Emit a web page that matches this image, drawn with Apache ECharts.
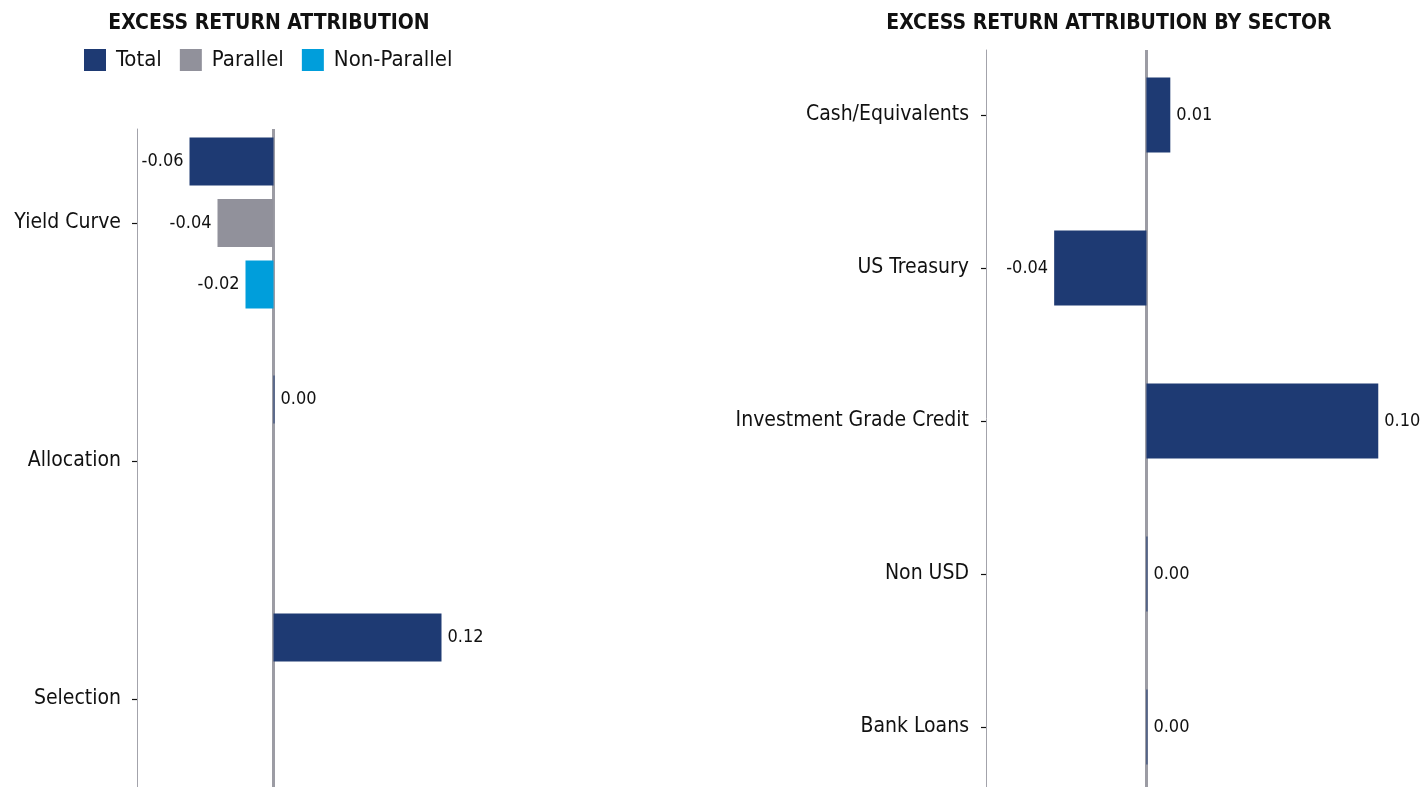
<!DOCTYPE html>
<html>
<head>
<meta charset="utf-8">
<script src="https://cdn.jsdelivr.net/npm/echarts@6/dist/echarts.min.js"></script>
<style>
  html, body { margin: 0; padding: 0; background: #ffffff; }
  #chart { width: 1423px; height: 787px; }
</style>
</head>
<body>
<div id="chart"></div>
<script>
// Attribution categories and values (left panel)
const attributionCategories = ['Yield Curve', 'Allocation', 'Selection'];
const totalValues = [-0.06, 0.00, 0.12];
const parallelValues = [-0.04, null, null];
const nonParallelValues = [-0.02, null, null];

// Sector attribution (right panel)
const sectorCategories = ['Cash/Equivalents', 'US Treasury', 'Investment Grade Credit', 'Non USD', 'Bank Loans'];
const sectorValues = [0.0103, -0.0398, 0.1000, 0.0000, 0.0000];

const seriesNames = ['Total', 'Parallel', 'Non-Parallel'];
const COLORS = { Total: '#1e3a73', Parallel: '#91919b', 'Non-Parallel': '#009edb' };

const FONT = '"DejaVu Sans Condensed", "DejaVu Sans", sans-serif';
const AXIS_GREY = '#a3a3ab';
const ZERO_GREY = '#9c9ca4';

function toItems(values) {
  return values.map(v => v === null ? '-' : {
    value: v,
    label: { position: v < 0 ? 'left' : 'right' }
  });
}

const valueLabel = {
  show: true,
  distance: 6,
  color: '#111',
  fontFamily: FONT,
  fontSize: 18,
  formatter: p => Number(p.value).toFixed(2)
};

const chart = echarts.init(document.getElementById('chart'), null, { renderer: 'canvas' });

// Value extents of the two panels
const leftMin = -0.0975, leftMax = 0.30;
const rightMin = -0.0692, rightMax = 0.118;

const hiddenValueAxis = (gridIndex, min, max) => ({
  type: 'value', gridIndex, min, max,
  axisLine: { show: false }, axisTick: { show: false },
  axisLabel: { show: false }, splitLine: { show: false }
});

const labelledCategoryAxis = (gridIndex, data, margin) => ({
  type: 'category', gridIndex, data, inverse: true,
  axisLine: { show: false, onZero: false },
  axisTick: { show: true, alignWithLabel: true, length: 5, lineStyle: { color: '#111', width: 1.2 } },
  axisLabel: { margin, color: '#111', fontFamily: FONT, fontSize: 21 },
  splitLine: { show: false }
});

const frameCategoryAxis = (gridIndex, data) => ({
  type: 'category', gridIndex, data, inverse: true,
  axisLine: { show: true, onZero: false, lineStyle: { color: AXIS_GREY, width: 1 } },
  axisTick: { show: false }, axisLabel: { show: false }, splitLine: { show: false }
});

const zeroLineSeries = (xAxisIndex, yAxisIndex) => ({
  type: 'line', xAxisIndex, yAxisIndex, data: [], z: 1, silent: true,
  markLine: {
    silent: true, symbol: 'none', animation: false, z: 1,
    label: { show: false },
    lineStyle: { color: ZERO_GREY, width: 3, type: 'solid' },
    data: [{ xAxis: 0 }]
  }
});

const option = {
  backgroundColor: '#ffffff',
  animation: false,
  title: [
    {
      text: 'EXCESS RETURN ATTRIBUTION', left: 264, top: 8, textAlign: 'center',
      textStyle: { fontFamily: FONT, fontWeight: 'bold', fontSize: 21, color: '#111' }
    },
    {
      text: 'EXCESS RETURN ATTRIBUTION BY SECTOR', left: 1104, top: 8, textAlign: 'center',
      textStyle: { fontFamily: FONT, fontWeight: 'bold', fontSize: 21, color: '#111' }
    }
  ],
  legend: {
    data: seriesNames,
    left: 84, top: 49, padding: 0,
    icon: 'rect', itemWidth: 22, itemHeight: 22, itemGap: 18,
    textStyle: { fontFamily: FONT, fontSize: 22, color: '#111', padding: [0, 0, 0, 5] }
  },
  grid: [
    { left: 137, right: 729.5, top: 104, height: 714, outerBoundsMode: 'none' },   // left bars
    { left: 137, right: 729.5, top: 129, bottom: 0, outerBoundsMode: 'none' },     // left frame
    { left: 986, right: 3, top: 38.5, height: 765, outerBoundsMode: 'none' },       // right bars
    { left: 986, right: 3, top: 50, bottom: 0, outerBoundsMode: 'none' }            // right frame
  ],
  xAxis: [
    hiddenValueAxis(0, leftMin, leftMax),
    hiddenValueAxis(1, leftMin, leftMax),
    hiddenValueAxis(2, rightMin, rightMax),
    hiddenValueAxis(3, rightMin, rightMax)
  ],
  yAxis: [
    labelledCategoryAxis(0, attributionCategories, 16),
    frameCategoryAxis(1, attributionCategories),
    labelledCategoryAxis(2, sectorCategories, 17),
    frameCategoryAxis(3, sectorCategories)
  ],
  series: [
    zeroLineSeries(1, 1),
    zeroLineSeries(3, 3),
    {
      name: 'Total', type: 'bar', xAxisIndex: 0, yAxisIndex: 0, z: 3,
      barWidth: 48, barGap: '28%', barMinHeight: 1,
      itemStyle: { color: COLORS.Total },
      label: valueLabel,
      data: toItems(totalValues)
    },
    {
      name: 'Parallel', type: 'bar', xAxisIndex: 0, yAxisIndex: 0, z: 3,
      barWidth: 48, barGap: '28%', barMinHeight: 1,
      itemStyle: { color: COLORS.Parallel },
      label: valueLabel,
      data: toItems(parallelValues)
    },
    {
      name: 'Non-Parallel', type: 'bar', xAxisIndex: 0, yAxisIndex: 0, z: 3,
      barWidth: 48, barGap: '28%', barMinHeight: 1,
      itemStyle: { color: COLORS['Non-Parallel'] },
      label: valueLabel,
      data: toItems(nonParallelValues)
    },
    {
      name: 'Sector', type: 'bar', xAxisIndex: 2, yAxisIndex: 2, z: 3,
      barWidth: 75, barMinHeight: 1,
      itemStyle: { color: COLORS.Total },
      label: valueLabel,
      data: toItems(sectorValues)
    }
  ]
};

chart.setOption(option);
</script>
</body>
</html>
